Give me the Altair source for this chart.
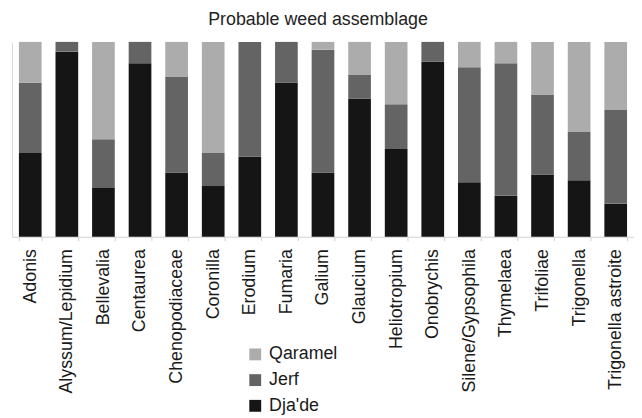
import altair as alt
import pandas as pd

categories = ["Adonis", "Alyssum/Lepidium", "Bellevalia", "Centaurea", "Chenopodiaceae",
              "Coronilla", "Erodium", "Fumaria", "Galium", "Glaucium", "Heliotropium",
              "Onobrychis", "Silene/Gypsophila", "Thymelaea", "Trifoliae", "Trigonella",
              "Trigonella astroite"]
djade = [43, 95, 25, 89, 33, 26, 41, 79, 33, 71, 45, 90, 28, 21, 32, 29, 17]
jerf = [36, 5, 25, 11, 49, 17, 59, 21, 63, 12, 23, 10, 59, 68, 41, 25, 48]
qaramel = [21, 0, 50, 0, 18, 57, 0, 0, 4, 17, 32, 0, 13, 11, 27, 46, 35]

series = ["Dja'de", "Jerf", "Qaramel"]
values = [djade, jerf, qaramel]
rows = []
for si, (s, vals) in enumerate(zip(series, values)):
    for c, v in zip(categories, vals):
        rows.append({"taxon": c, "site": s, "value": v, "ord": si})
df = pd.DataFrame(rows)

FONT = "Liberation Sans"

chart = alt.Chart(df).mark_bar().encode(
    x=alt.X("taxon:N", sort=categories,
            scale=alt.Scale(paddingInner=0.38, paddingOuter=0.19),
            axis=alt.Axis(title=None, labelAngle=-90, labelFontSize=18, labelFont=FONT,
                          labelColor="#1a1a1a", tickBand="extent", tickSize=4,
                          tickColor="#d0d0d0", domainColor="#d0d0d0", labelPadding=8,
                          grid=False)),
    y=alt.Y("value:Q", stack="normalize",
            axis=alt.Axis(title=None, labels=False, ticks=False, grid=False,
                          domainColor="#d8d8d8")),
    color=alt.Color("site:N",
                    scale=alt.Scale(domain=["Qaramel", "Jerf", "Dja'de"],
                                    range=["#acacac", "#646464", "#151515"]),
                    legend=alt.Legend(title=None, orient="none", legendX=237, legendY=307,
                                      symbolType="square", symbolSize=144,
                                      symbolStrokeWidth=0, labelFontSize=18, labelFont=FONT,
                                      labelColor="#1a1a1a", rowPadding=8, labelOffset=5,
                                      padding=0)),
    order=alt.Order("ord:Q", sort="ascending"),
).properties(
    width=629,
    height=197,
    title=alt.TitleParams("Probable weed assemblage", fontSize=18, font=FONT,
                          fontWeight="normal", color="#222222", offset=13, dx=-5),
    autosize=alt.AutoSizeParams(type="none"),
    padding={"left": 4, "top": 32, "right": 0, "bottom": 178},
).configure_view(stroke=None)

chart.save("out.html", embed_options={"renderer": "svg", "actions": False})
